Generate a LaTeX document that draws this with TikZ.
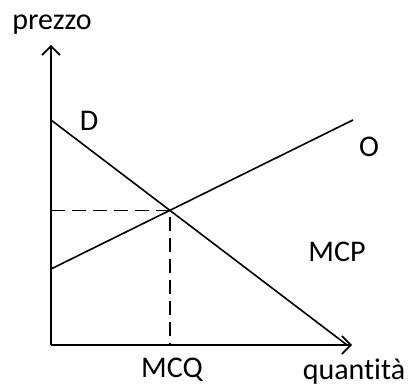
\documentclass[tikz,border=0pt]{standalone}
\usepackage{fontspec}
\setmainfont{Carlito}[Ligatures=NoCommon]
\usetikzlibrary{arrows.meta}
\tikzset{
  axis/.style={line width=1.6pt, -{Straight Barb[length=9pt,width=18pt,line width=1.6pt]}},
  curve/.style={line width=1.6pt},
  guide/.style={line width=1.6pt, dash pattern=on 14pt off 7pt},
  lbl/.style={font=\fontsize{30}{36}\selectfont, inner sep=0pt}
}

\begin{document}
\begin{tikzpicture}[x=1pt,y=1pt]
\useasboundingbox (0,0) rectangle (409,387);
% axes
\coordinate (orig) at (51,42);
\coordinate (ytop) at (51,342);
\coordinate (xend) at (352,42);
\draw[axis] (orig) -- (ytop);
\draw[axis] (orig) -- (xend);
% demand and supply
\coordinate (dtop) at (51,267);
\coordinate (dend) at (347,42);
\coordinate (sbot) at (51,118);
\coordinate (send) at (353,267);
\draw[curve] (dtop) -- (dend);
\draw[curve] (sbot) -- (send);
\coordinate (eq) at (intersection of dtop--dend and sbot--send);
\coordinate (eqy) at (orig |- eq);
\coordinate (eqx) at (eq |- orig);
\draw[guide] (eqy) -- (eq) -- (eqx);
% labels
\node[lbl] (prezzo) at (52,362) {prezzo};
\node[lbl] (dlab) at (89,266) {D};
\node[lbl] (olab) at (369,240) {O};
\node[lbl] (mcp) at (337,135) {MCP};
\node[lbl] (mcq) at (172,17) {MCQ};
\node[lbl] (quant) at (354,15) {quantità};
\end{tikzpicture}
\end{document}
